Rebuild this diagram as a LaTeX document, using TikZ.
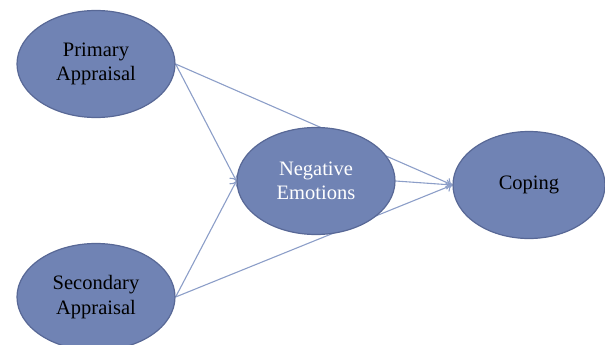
\documentclass[tikz,border=0pt]{standalone}
\usepackage{fontspec}
\setmainfont{Liberation Serif}
\usepackage{tikz}
\usetikzlibrary{arrows.meta,backgrounds,shapes.geometric}
\definecolor{bubblefill}{RGB}{112,131,180}
\definecolor{bubbleline}{RGB}{88,104,150}
\definecolor{linkcol}{RGB}{140,158,200}
\tikzset{
  bubble/.style={ellipse, draw=bubbleline, line width=1.2pt, fill=bubblefill,
    minimum width=158pt, minimum height=107pt, inner sep=0pt, align=center,
    font=\fontsize{20.5}{24.5}\selectfont},
  link/.style={draw=linkcol, line width=1.1pt, -{To[length=6pt,width=10pt]}}
}
\begin{document}
\begin{tikzpicture}[x=1pt,y=-1pt]
        \useasboundingbox (0,0) rectangle (605,345);
        % ellipses
        \node[bubble] (primary) at (96,64) {Primary\\Appraisal};
        \node[bubble] (secondary) at (96,297) {Secondary\\Appraisal};
        \node[bubble, text=white] (negemo) at (316,181) {Negative\\Emotions};
        \node[bubble, minimum width=152pt] (coping) at (529,185) {Coping};
        % arrows
        \begin{scope}[on background layer]
        \draw[link] (primary.east) -- (negemo.west);
        \draw[link] (primary.east) -- (coping.west);
        \draw[link] (secondary.east) -- (negemo.west);
        \draw[link] (secondary.east) -- (coping.west);
        \draw[link] (negemo.east) -- (coping.west);
        \end{scope}
\end{tikzpicture}
\end{document}
